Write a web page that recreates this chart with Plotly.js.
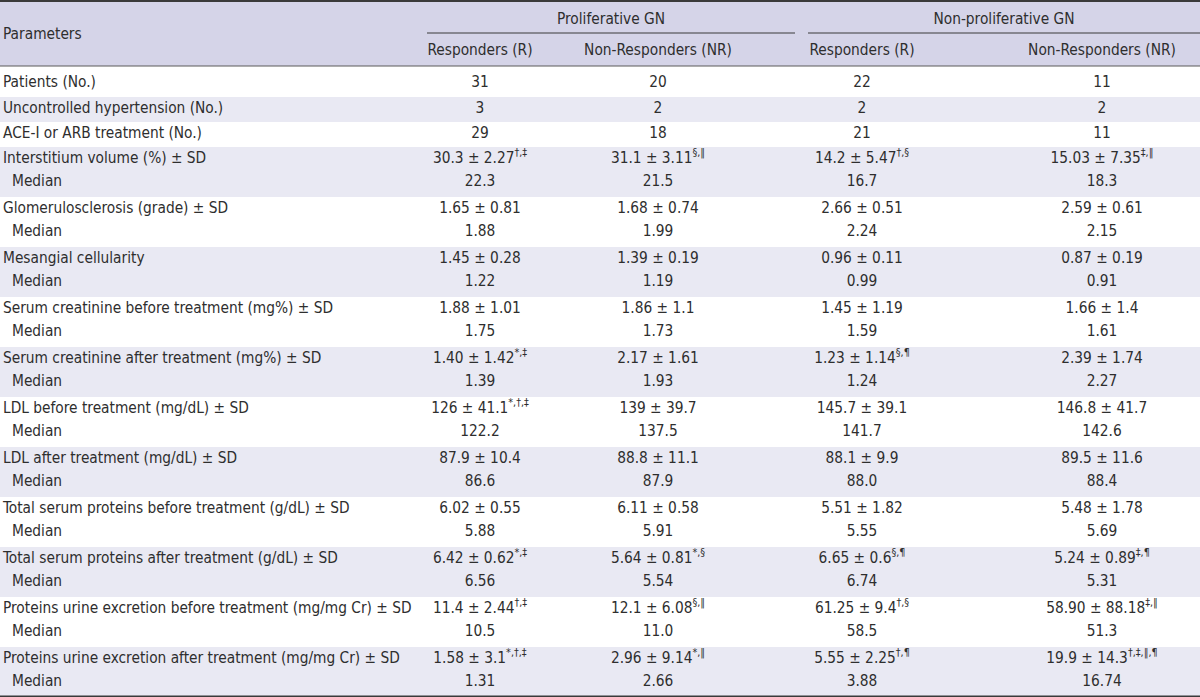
<!DOCTYPE html>
<html>
<head>
<meta charset="utf-8">
<script src="https://cdn.plot.ly/plotly-3.0.1.min.js"></script>
<style>
  html, body { margin: 0; padding: 0; background: #ffffff; }
  #chart { width: 1200px; height: 697px; }
</style>
</head>
<body>
<div id="chart"></div>
<script>
// ---------------- DATA ----------------
const groupHeaders = ["Proliferative GN", "Non-proliferative GN"];
const columnHeaders = ["Responders (R)", "Non-Responders (NR)", "Responders (R)", "Non-Responders (NR)"];
const parameterHeader = "Parameters";

const parameters = [
  "Patients (No.)",
  "Uncontrolled hypertension (No.)",
  "ACE-I or ARB treatment (No.)",
  "Interstitium volume (%) ± SD",
  "Glomerulosclerosis (grade) ± SD",
  "Mesangial cellularity",
  "Serum creatinine before treatment (mg%) ± SD",
  "Serum creatinine after treatment (mg%) ± SD",
  "LDL before treatment (mg/dL) ± SD",
  "LDL after treatment (mg/dL) ± SD",
  "Total serum proteins before treatment (g/dL) ± SD",
  "Total serum proteins after treatment (g/dL) ± SD",
  "Proteins urine excretion before treatment (mg/mg Cr) ± SD",
  "Proteins urine excretion after treatment (mg/mg Cr) ± SD"
];
const medianLabel = "Median";

const proliferativeR = ["31", "3", "29", "30.3 ± 2.27<sup>†,‡</sup>", "1.65 ± 0.81", "1.45 ± 0.28", "1.88 ± 1.01",
  "1.40 ± 1.42<sup>*,‡</sup>", "126 ± 41.1<sup>*,†,‡</sup>", "87.9 ± 10.4", "6.02 ± 0.55", "6.42 ± 0.62<sup>*,‡</sup>",
  "11.4 ± 2.44<sup>†,‡</sup>", "1.58 ± 3.1<sup>*,†,‡</sup>"];
const proliferativeRMedian = [null, null, null, "22.3", "1.88", "1.22", "1.75", "1.39", "122.2", "86.6", "5.88", "6.56", "10.5", "1.31"];

const proliferativeNR = ["20", "2", "18", "31.1 ± 3.11<sup>§,∥</sup>", "1.68 ± 0.74", "1.39 ± 0.19", "1.86 ± 1.1",
  "2.17 ± 1.61", "139 ± 39.7", "88.8 ± 11.1", "6.11 ± 0.58", "5.64 ± 0.81<sup>*,§</sup>",
  "12.1 ± 6.08<sup>§,∥</sup>", "2.96 ± 9.14<sup>*,∥</sup>"];
const proliferativeNRMedian = [null, null, null, "21.5", "1.99", "1.19", "1.73", "1.93", "137.5", "87.9", "5.91", "5.54", "11.0", "2.66"];

const nonProliferativeR = ["22", "2", "21", "14.2 ± 5.47<sup>†,§</sup>", "2.66 ± 0.51", "0.96 ± 0.11", "1.45 ± 1.19",
  "1.23 ± 1.14<sup>§,¶</sup>", "145.7 ± 39.1", "88.1 ± 9.9", "5.51 ± 1.82", "6.65 ± 0.6<sup>§,¶</sup>",
  "61.25 ± 9.4<sup>†,§</sup>", "5.55 ± 2.25<sup>†,¶</sup>"];
const nonProliferativeRMedian = [null, null, null, "16.7", "2.24", "0.99", "1.59", "1.24", "141.7", "88.0", "5.55", "6.74", "58.5", "3.88"];

const nonProliferativeNR = ["11", "2", "11", "15.03 ± 7.35<sup>‡,∥</sup>", "2.59 ± 0.61", "0.87 ± 0.19", "1.66 ± 1.4",
  "2.39 ± 1.74", "146.8 ± 41.7", "89.5 ± 11.6", "5.48 ± 1.78", "5.24 ± 0.89<sup>‡,¶</sup>",
  "58.90 ± 88.18<sup>‡,∥</sup>", "19.9 ± 14.3<sup>†,‡,∥,¶</sup>"];
const nonProliferativeNRMedian = [null, null, null, "18.3", "2.15", "0.91", "1.61", "2.27", "142.6", "88.4", "5.69", "5.31", "51.3", "16.74"];

// ---------------- LAYOUT GEOMETRY ----------------
const W = 1200, H = 697;
const headerTop = 1, headerBottom = 66;
const singleRowHeights = [31, 25, 25];
const doubleRowHeight = 50;
const colCenters = [480, 658, 862, 1102];
const labelX = 3, medianX = 12;

const FONT = "'DejaVu Sans Condensed', 'Liberation Sans Narrow', 'Arial Narrow', sans-serif";
const TXT = "#2e2e2e";
const FS = 15.3;

const valueCols = [proliferativeR, proliferativeNR, nonProliferativeR, nonProliferativeNR];
const medianCols = [proliferativeRMedian, proliferativeNRMedian, nonProliferativeRMedian, nonProliferativeNRMedian];

const rowTops = [], rowHeights = [];
let yy = headerBottom;
parameters.forEach((p, i) => {
  const h = i < singleRowHeights.length ? singleRowHeights[i] : doubleRowHeight;
  rowTops.push(yy); rowHeights.push(h); yy += h;
});

const shapes = [];
shapes.push({type: "rect", xref: "x", yref: "y", x0: 0, x1: W, y0: headerTop, y1: headerBottom,
  fillcolor: "#d5d4e8", line: {width: 0}, layer: "below"});
parameters.forEach((p, i) => {
  shapes.push({type: "rect", xref: "x", yref: "y", x0: 0, x1: W, y0: rowTops[i], y1: rowTops[i] + rowHeights[i],
    fillcolor: i % 2 === 1 ? "#e9e9f3" : "#ffffff", line: {width: 0}, layer: "below"});
});
shapes.push({type: "line", xref: "x", yref: "y", x0: 0, x1: W, y0: headerTop, y1: headerTop, line: {color: "#3a3a3a", width: 2}});
shapes.push({type: "line", xref: "x", yref: "y", x0: 0, x1: W, y0: headerBottom, y1: headerBottom, line: {color: "#5a5a5a", width: 1}});
shapes.push({type: "line", xref: "x", yref: "y", x0: 0, x1: W, y0: yy - 0.5, y1: yy - 0.5, line: {color: "#3a3a3a", width: 2}});
shapes.push({type: "line", xref: "x", yref: "y", x0: 427, x1: 795, y0: 33, y1: 33, line: {color: "#3a3a3a", width: 1}});
shapes.push({type: "line", xref: "x", yref: "y", x0: 808, x1: W, y0: 33, y1: 33, line: {color: "#3a3a3a", width: 1}});

// ---------------- TEXT TRACES ----------------
const leftX = [], leftY = [], leftT = [];
const cenX = [], cenY = [], cenT = [];

leftX.push(labelX); leftY.push(35); leftT.push(parameterHeader);
cenX.push((427 + 795) / 2); cenY.push(20); cenT.push(groupHeaders[0]);
cenX.push((808 + W) / 2); cenY.push(20); cenT.push(groupHeaders[1]);
columnHeaders.forEach((c, j) => { cenX.push(colCenters[j]); cenY.push(51.5); cenT.push(c); });

parameters.forEach((p, i) => {
  const top = rowTops[i], h = rowHeights[i];
  const hasMed = medianCols[0][i] !== null;
  const y1 = hasMed ? top + 12 : top + h / 2 + (i === 0 ? 1.5 : 0);
  const y2 = top + 35;
  leftX.push(labelX); leftY.push(y1); leftT.push(p);
  if (hasMed) { leftX.push(medianX); leftY.push(y2); leftT.push(medianLabel); }
  valueCols.forEach((col, j) => {
    cenX.push(colCenters[j]); cenY.push(y1); cenT.push(col[i]);
    if (hasMed) { cenX.push(colCenters[j]); cenY.push(y2); cenT.push(medianCols[j][i]); }
  });
});

const textFont = {family: FONT, size: FS, color: TXT};
const traces = [
  {type: "scatter", mode: "text", x: leftX, y: leftY, text: leftT, textposition: "middle right",
   textfont: textFont, cliponaxis: false, hoverinfo: "skip", showlegend: false},
  {type: "scatter", mode: "text", x: cenX, y: cenY, text: cenT, textposition: "middle center",
   textfont: textFont, cliponaxis: false, hoverinfo: "skip", showlegend: false}
];

const layout = {
  width: W, height: H,
  margin: {l: 0, r: 0, t: 0, b: 0, pad: 0},
  paper_bgcolor: "#ffffff", plot_bgcolor: "#ffffff",
  xaxis: {range: [0, W], visible: false, fixedrange: true},
  yaxis: {range: [H, 0], visible: false, fixedrange: true},
  shapes: shapes,
  showlegend: false,
  hovermode: false
};

Plotly.newPlot("chart", traces, layout, {staticPlot: true, displayModeBar: false});
</script>
</body>
</html>
